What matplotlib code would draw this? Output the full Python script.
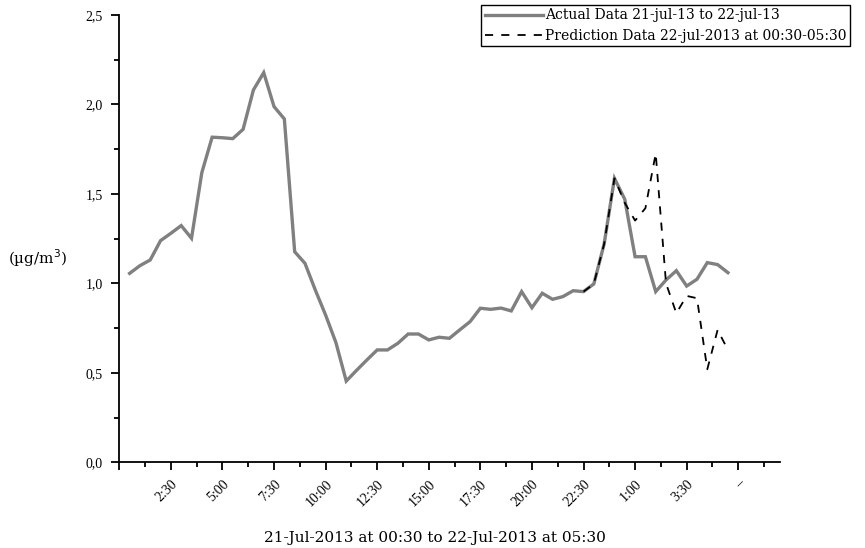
import matplotlib
matplotlib.use("Agg")
import matplotlib.pyplot as plt
from matplotlib.ticker import MultipleLocator, FixedLocator
import numpy as np

# hours since 21-Jul-2013 00:00, every 30 min from 00:30
actual_values = [1.056, 1.099, 1.131, 1.239, 1.280, 1.323, 1.252, 1.619, 1.817, 1.814,
                 1.809, 1.861, 2.081, 2.178, 1.988, 1.919, 1.177, 1.112, 0.963, 0.823,
                 0.669, 0.454, 0.514, 0.572, 0.628, 0.628, 0.665, 0.717, 0.717, 0.684,
                 0.699, 0.693, 0.740, 0.786, 0.861, 0.855, 0.862, 0.846, 0.954, 0.864,
                 0.945, 0.911, 0.926, 0.959, 0.954, 0.997, 1.220, 1.587, 1.470, 1.149,
                 1.149, 0.954, 1.019, 1.071, 0.985, 1.023, 1.116, 1.105, 1.060]
actual_hours = [0.5 + 0.5 * i for i in range(len(actual_values))]

pred_values = [0.954, 0.997, 1.220, 1.587, 1.450, 1.351, 1.420, 1.726, 1.000, 0.833,
               0.930, 0.917, 0.520, 0.740, 0.628]
pred_hours = [22.5 + 0.5 * i for i in range(len(pred_values))]

tick_hours = [0, 2.5, 5, 7.5, 10, 12.5, 15, 17.5, 20, 22.5, 25, 27.5, 30]
tick_labels = ["", "2:30", "5:00", "7:30", "10:00", "12:30", "15:00", "17:30",
               "20:00", "22:30", "1:00", "3:30", "–"]
y_ticks = [0.0, 0.5, 1.0, 1.5, 2.0, 2.5]
y_tick_labels = ["0,0", "0,5", "1,0", "1,5", "2,0", "2,5"]

serif = ["Liberation Serif", "DejaVu Serif"]
plt.rcParams['font.family'] = serif

fig = plt.figure(figsize=(8.65, 5.48), dpi=100)
ax = fig.add_axes([119.3 / 865, 1 - 462.3 / 548, (779.5 - 119.3) / 865, (462.3 - 15) / 548])

ax.plot(actual_hours, actual_values, color="#808080", lw=2.4, solid_joinstyle="miter",
        label="Actual Data 21-jul-13 to 22-jul-13", zorder=2)
ax.plot(pred_hours, pred_values, color="black", lw=1.3, linestyle=(0, (4.5, 4.5)),
        label="Prediction Data 22-jul-2013 at 00:30-05:30", zorder=3)

ax.set_xlim(0, 32)
ax.set_ylim(0, 2.5)
for s in ["top", "right"]:
    ax.spines[s].set_visible(False)
for s in ["left", "bottom"]:
    ax.spines[s].set_linewidth(1.3)

ax.xaxis.set_major_locator(FixedLocator(tick_hours))
ax.set_xticklabels(tick_labels, rotation=45, ha="right", va="top", rotation_mode="anchor",
                   fontsize=10)
ax.xaxis.set_minor_locator(MultipleLocator(1.25))
ax.set_yticks(y_ticks)
ax.set_yticklabels(y_tick_labels, fontsize=10)
ax.yaxis.set_minor_locator(MultipleLocator(0.25))
ax.tick_params(which="major", direction="out", length=6, width=1.3)
ax.tick_params(which="minor", direction="out", length=3.5, width=1.3)
ax.tick_params(axis="x", which="major", pad=5)
ax.tick_params(axis="y", which="major", pad=6)

fig.text(8 / 865, 1 - 258 / 548, "(µg/m$^{3}$)", fontsize=11, ha="left", va="center",
         family="DejaVu Serif")
fig.text(435 / 865, 1 - 538 / 548, "21-Jul-2013 at 00:30 to 22-Jul-2013 at 05:30",
         fontsize=11, ha="center", va="center", family="DejaVu Serif")

leg = ax.legend(loc="upper right", bbox_to_anchor=(850 / 865, 1 - 5 / 548),
                bbox_transform=fig.transFigure, frameon=True, fancybox=False,
                edgecolor="black", framealpha=1, borderpad=0.25, labelspacing=0.45,
                handlelength=4.2, handletextpad=0.15, borderaxespad=0,
                prop={"family": "DejaVu Serif", "size": 10})
leg.get_frame().set_linewidth(1.0)

fig.savefig("out.png", dpi=100)
